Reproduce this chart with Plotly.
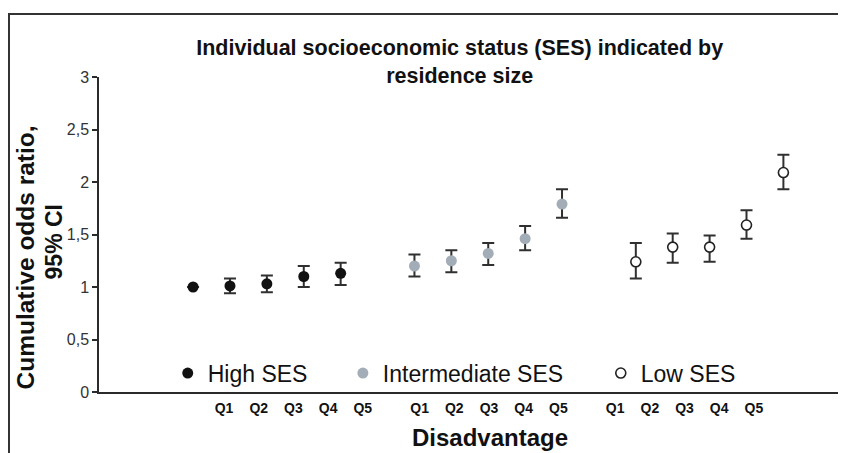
import plotly.graph_objects as go

# Cumulative odds ratios (95% CI) by disadvantage quintile, per SES group
quintiles = ["Q1", "Q2", "Q3", "Q4", "Q5"]
groups = ["High SES", "Intermediate SES", "Low SES"]

high_or = [1.00, 1.01, 1.03, 1.10, 1.13]
high_lo = [None, 0.94, 0.95, 1.00, 1.02]
high_hi = [None, 1.08, 1.11, 1.20, 1.23]

mid_or = [1.20, 1.25, 1.32, 1.46, 1.79]
mid_lo = [1.10, 1.14, 1.21, 1.35, 1.66]
mid_hi = [1.31, 1.35, 1.42, 1.58, 1.93]

low_or = [1.24, 1.38, 1.38, 1.59, 2.09]
low_lo = [1.08, 1.23, 1.24, 1.46, 1.93]
low_hi = [1.42, 1.51, 1.49, 1.73, 2.26]

y_ticks = [0, 0.5, 1, 1.5, 2, 2.5, 3]

FONT = "Liberation Sans, Arial, sans-serif"
INK = "#2b2b2b"

series = [
    (high_or, high_lo, high_hi, dict(size=11, color="#111111")),
    (mid_or, mid_lo, mid_hi, dict(size=11, color="#a3adb8")),
    (low_or, low_lo, low_hi, dict(size=10, color="white", line=dict(width=1.6, color="#222222"))),
]
legend_x = [0.093, 0.330, 0.679]
legend_ids = ["legend", "legend2", "legend3"]

fig = go.Figure()
for g, (name, (vals, lo, hi, marker)) in enumerate(zip(groups, series)):
    xs = [g * 6 + i for i in range(len(quintiles))]
    plus = [None if h is None else h - v for v, h in zip(vals, hi)]
    minus = [None if l is None else v - l for v, l in zip(vals, lo)]
    fig.add_trace(go.Scatter(
        x=xs, y=vals,
        mode="markers",
        name=name,
        marker=marker,
        legend=legend_ids[g],
        error_y=dict(type="data", symmetric=False, array=plus, arrayminus=minus,
                     color="#303030", thickness=2, width=6),
        hovertemplate=name + "<br>OR: %{y:.2f}<extra></extra>",
    ))

# Quintile labels sit slightly left of the markers, as in the original
label_pos = []
label_txt = []
for g in range(len(groups)):
    for i, q in enumerate(quintiles):
        label_pos.append(0.84 + g * 5.3 + i * 0.94)
        label_txt.append(q)

legend_style = dict(orientation="h", y=0.06, yanchor="middle", xanchor="left",
                    bgcolor="rgba(0,0,0,0)", font=dict(family=FONT, size=23, color="#111"),
                    itemwidth=30)
legends = {lid: dict(legend_style, x=lx) for lid, lx in zip(legend_ids, legend_x)}

# page body keeps its default 8px margin, so the figure is 8px smaller than the window
fig.update_layout(
    width=838, height=445,
    margin=dict(l=91, r=8, t=69, b=61),
    paper_bgcolor="white",
    plot_bgcolor="white",
    separators=",.",
    font=dict(family=FONT, color=INK),
    title=dict(
        text="Individual socioeconomic status (SES) indicated by<br>residence size",
        x=0.539, xanchor="center", y=0.895, yanchor="middle",
        font=dict(family=FONT, size=21.5, weight="bold", color="#111"),
    ),
    xaxis=dict(
        range=[-2.55, 17.48],
        tickvals=label_pos, ticktext=label_txt,
        ticks="", showgrid=False, zeroline=False,
        showline=True, linecolor=INK, linewidth=1.5,
        tickfont=dict(family=FONT, size=14, weight="bold", color="#111"),
        ticklabelstandoff=2,
    ),
    yaxis=dict(
        range=[0, 3],
        tickvals=y_ticks,
        ticks="outside", ticklen=5, tickcolor=INK, tickwidth=1.5,
        showgrid=False, zeroline=False,
        showline=True, linecolor=INK, linewidth=1.5,
        tickfont=dict(family=FONT, size=16, color="#333"),
    ),
    showlegend=True,
    **legends,
    annotations=[
        # y-axis title, two lines placed separately to follow the original spacing
        dict(text="Cumulative odds ratio,", textangle=-90,
             xref="paper", yref="paper", x=-0.0988, y=0.427,
             xanchor="center", yanchor="middle", showarrow=False,
             font=dict(family=FONT, size=24.5, weight="bold", color="#111")),
        dict(text="95% CI", textangle=-90,
             xref="paper", yref="paper", x=-0.0609, y=0.478,
             xanchor="center", yanchor="middle", showarrow=False,
             font=dict(family=FONT, size=23, weight="bold", color="#111")),
        dict(text="Disadvantage",
             xref="paper", yref="paper", x=0.529, y=-0.146,
             xanchor="center", yanchor="middle", showarrow=False,
             font=dict(family=FONT, size=24, weight="bold", color="#111")),
    ],
    shapes=[
        dict(type="rect", xref="paper", yref="paper",
             x0=-0.1218, x1=1.03, y0=-0.25, y1=1.2,
             line=dict(color="#333", width=2), fillcolor="rgba(0,0,0,0)", layer="below"),
    ],
)

fig.write_html("out.html")
